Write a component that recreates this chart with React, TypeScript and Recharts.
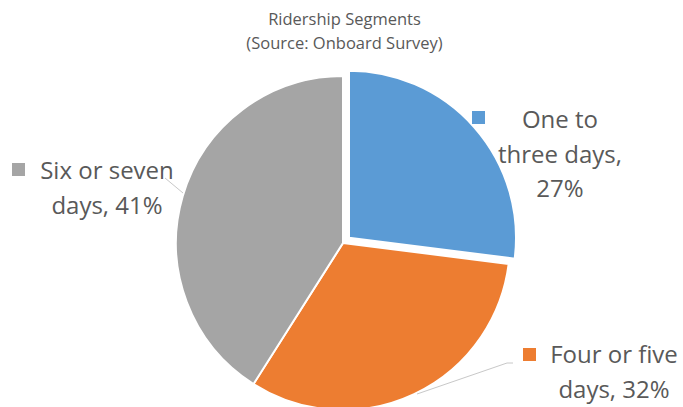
import { PieChart, Pie, Cell } from 'recharts';

const segments = ['One to three days', 'Four or five days', 'Six or seven days'];
const shares = [27, 32, 41];
const colors = ['#5B9BD5', '#ED7D31', '#A5A5A5'];
const labelLines = [
  ['One to', 'three days,', '27%'],
  ['Four or five', 'days, 32%'],
  ['Six or seven', 'days, 41%'],
];

const data = segments.map((name, i) => ({ name, value: shares[i] }));

const W = 683;
const H = 407;
const CX = 343;
const CY = 243;
const R = 167;
const EXPLODE = 8; // only the first slice is pulled out

// mid angle of slice 0, measured clockwise from 12 o'clock
const total = shares.reduce((a, b) => a + b, 0);
const mid0 = ((shares[0] / total) * 360) / 2;
const dx = EXPLODE * Math.sin((mid0 * Math.PI) / 180);
const dy = -EXPLODE * Math.cos((mid0 * Math.PI) / 180);

const FONT = '"Open Sans", "Noto Sans", sans-serif';
const TEXT = '#595959';
const LINE_H = 34.5;

// label boxes: text centre x, first baseline y, marker position, optional leader line
const labelLayout = [
  { cx: 560, y: 128, mx: 472, my: 111, leader: null as number[][] | null },
  { cx: 614, y: 363, mx: 523, my: 348, leader: [[417, 394], [507, 363], [513, 363]] },
  { cx: 107, y: 179, mx: 12, my: 163, leader: [[165, 178], [183, 193]] },
];

function renderLabel(props: { index: number }) {
  const i = props.index;
  const L = labelLayout[i];
  const lines = labelLines[i];
  return (
    <g key={`lbl-${i}`}>
      {L.leader && (
        <polyline
          points={L.leader.map((p) => p.join(',')).join(' ')}
          fill="none"
          stroke="#C8C8C8"
          strokeWidth={1}
        />
      )}
      <rect x={L.mx} y={L.my} width={13} height={13} fill={colors[i]} />
      <text x={L.cx} y={L.y} textAnchor="middle" fill={TEXT} fontSize={24} fontFamily={FONT}>
        {lines.map((t, k) => (
          <tspan key={k} x={L.cx} y={L.y + k * LINE_H}>
            {t}
          </tspan>
        ))}
      </text>
    </g>
  );
}

export default function App() {
  return (
    <div style={{ position: 'absolute', left: 0, top: 0, width: W, height: H, background: '#fff', overflow: 'hidden' }}>
      <div
        style={{
          position: 'absolute',
          left: 0,
          width: W,
          top: 7,
          textAlign: 'center',
          fontFamily: FONT,
          fontSize: 16.5,
          lineHeight: '24px',
          color: TEXT,
        }}
      >
        <div style={{ marginLeft: 6 }}>Ridership Segments</div>
        <div style={{ marginLeft: 6 }}>(Source: Onboard Survey)</div>
      </div>
      <div style={{ position: 'absolute', left: 0, top: 0 }}>
        <PieChart width={W} height={H} margin={{ top: 0, right: 0, bottom: 0, left: 0 }}>
          <Pie
            data={data}
            dataKey="value"
            nameKey="name"
            cx={CX}
            cy={CY}
            outerRadius={R}
            startAngle={90}
            endAngle={-270}
            stroke="#fff"
            strokeWidth={2}
            labelLine={false}
            label={renderLabel}
            isAnimationActive={false}
          >
            {data.map((d, i) => (
              <Cell key={d.name} fill={i === 0 ? 'transparent' : colors[i]} stroke={i === 0 ? 'none' : '#fff'} />
            ))}
          </Pie>
          <Pie
            data={data}
            dataKey="value"
            nameKey="name"
            cx={CX + dx}
            cy={CY + dy}
            outerRadius={R}
            startAngle={90}
            endAngle={-270}
            stroke="#fff"
            strokeWidth={2}
            labelLine={false}
            label={false}
            isAnimationActive={false}
          >
            {data.map((d, i) => (
              <Cell key={d.name} fill={i === 0 ? colors[0] : 'transparent'} stroke={i === 0 ? '#fff' : 'none'} />
            ))}
          </Pie>
        </PieChart>
      </div>
    </div>
  );
}
